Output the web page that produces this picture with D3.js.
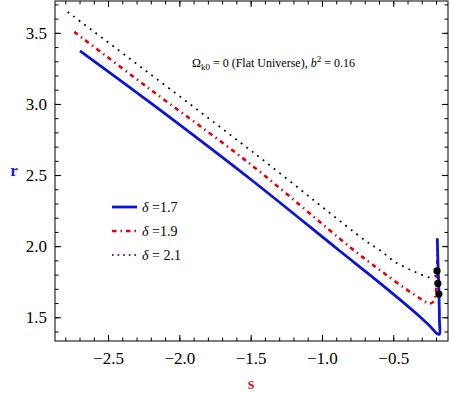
<!DOCTYPE html>
<html><head><meta charset="utf-8">
<script src="https://cdn.jsdelivr.net/npm/d3@7"></script>
<style>body{margin:0;background:#fff}svg{display:block}
text{font-family:"Liberation Serif","Times New Roman","DejaVu Serif",serif}</style>
</head><body><svg id="c" width="450" height="396"></svg>
<script>
// ---- data ----
const xTicks = [-2.5, -2.0, -1.5, -1.0, -0.5];
const yTicks = [1.5, 2.0, 2.5, 3.0, 3.5];
const legendLabels = ["δ =1.7", "δ =1.9", "δ = 2.1"];
const s17 = [-2.697, -2.206, -1.505, -0.881, -0.593, -0.313, -0.243, -0.196, -0.177, -0.176, -0.180, -0.187, -0.191];
const r17 = [3.374, 3.011, 2.474, 1.971, 1.740, 1.504, 1.438, 1.387, 1.380, 1.48, 1.69, 1.90, 2.055];
const s19 = [-2.737, -2.229, -1.505, -0.804, -0.593, -0.348, -0.243, -0.219, -0.204, -0.194, -0.190];
const r19 = [3.507, 3.121, 2.579, 1.994, 1.831, 1.656, 1.597, 1.609, 1.656, 1.761, 1.97];
const s21 = [-2.783, -1.493, -0.698, -0.593, -0.488, -0.35, -0.243, -0.205, -0.194, -0.189, -0.187];
const r21 = [3.647, 2.668, 2.041, 1.971, 1.89, 1.82, 1.78, 1.79, 1.83, 1.92, 1.97];
const dotS = [-0.193, -0.187, -0.180];
const dotR = [1.826, 1.738, 1.663];

const svg = d3.select("#c");
const L = 55, R = 448, T = 1, B = 341;
const x = d3.scaleLinear().domain([-2.872, -0.116]).range([L, R]);
const y = d3.scaleLinear().domain([1.333, 3.724]).range([B, T]);
const font = "'Liberation Serif','Times New Roman','DejaVu Serif',serif";

const minorX = d3.range(-2.8, -0.11, 0.1).map(v => +v.toFixed(2));
const minorY = d3.range(1.4, 3.75, 0.1).map(v => +v.toFixed(2));

// axes
const ax = svg.append("g");
function tickGroup(gen, tr) {
  const g = ax.append("g").attr("transform", tr).call(gen);
  g.attr("font-family", null).attr("font-size", null);
  g.select(".domain").remove();
  g.selectAll("text").style("font-family", font).style("font-size", "17px").attr("fill", "#000");
  g.selectAll("line").attr("stroke", "#000");
  return g;
}
const fmt = d => (d < 0 ? "\u2212" : "") + Math.abs(d).toFixed(1);
// bottom
tickGroup(d3.axisBottom(x).tickValues(xTicks).tickSize(-6).tickPadding(11).tickFormat(fmt), `translate(0,${B})`);
tickGroup(d3.axisBottom(x).tickValues(minorX).tickSize(-3.5).tickFormat(""), `translate(0,${B})`);
// top
tickGroup(d3.axisTop(x).tickValues(xTicks).tickSize(-6).tickFormat(""), `translate(0,${T})`);
tickGroup(d3.axisTop(x).tickValues(minorX).tickSize(-3.5).tickFormat(""), `translate(0,${T})`);
// left
tickGroup(d3.axisLeft(y).tickValues(yTicks).tickSize(-6).tickPadding(8).tickFormat(d => d.toFixed(1)), `translate(${L},0)`);
tickGroup(d3.axisLeft(y).tickValues(minorY).tickSize(-3.5).tickFormat(""), `translate(${L},0)`);
// right
tickGroup(d3.axisRight(y).tickValues(yTicks).tickSize(-6).tickFormat(""), `translate(${R},0)`);
tickGroup(d3.axisRight(y).tickValues(minorY).tickSize(-3.5).tickFormat(""), `translate(${R},0)`);

svg.append("rect").attr("x", L).attr("y", T).attr("width", R - L).attr("height", B - T)
  .attr("fill", "none").attr("stroke", "#000").attr("stroke-width", 1);

// curves
svg.append("clipPath").attr("id", "cp").append("rect")
  .attr("x", L).attr("y", T).attr("width", R - L).attr("height", B - T);
const line = d3.line().x(d => x(d[0])).y(d => y(d[1])).curve(d3.curveCatmullRom.alpha(0.5));
const plot = svg.append("g").attr("clip-path", "url(#cp)");
plot.append("path").datum(d3.zip(s21, r21)).attr("d", line).attr("fill", "none")
  .attr("stroke", "#000").attr("stroke-width", 1.8).attr("stroke-dasharray", "1.8,5.2");
plot.append("path").datum(d3.zip(s19, r19)).attr("d", line).attr("fill", "none")
  .attr("stroke", "#e8000b").attr("stroke-width", 2.6).attr("stroke-dasharray", "4.5,4,1.5,4");
plot.append("path").datum(d3.zip(s17, r17)).attr("d", line).attr("fill", "none")
  .attr("stroke", "#0a14d8").attr("stroke-width", 2.8);
plot.selectAll("circle").data(d3.zip(dotS, dotR)).join("circle")
  .attr("cx", d => x(d[0])).attr("cy", d => y(d[1])).attr("r", 3.6).attr("fill", "#000");

// legend
const legStyles = [
  {stroke: "#0a14d8", w: 2.8, dash: null},
  {stroke: "#e8000b", w: 2.6, dash: "4.5,4,1.5,4"},
  {stroke: "#6a1a6a", w: 1.8, dash: "1.6,4"}
];
const lg = svg.append("g");
legendLabels.forEach((t, i) => {
  const yy = 207 + i * 24;
  lg.append("line").attr("x1", 112).attr("x2", 137).attr("y1", yy).attr("y2", yy)
    .attr("stroke", legStyles[i].stroke).attr("stroke-width", legStyles[i].w)
    .attr("stroke-dasharray", legStyles[i].dash);
  const parts = t.split("δ");
  const tx = lg.append("text").attr("x", 142).attr("y", yy + 5).style("font-size", "14px");
  tx.append("tspan").attr("font-style", "italic").text("δ");
  tx.append("tspan").text(parts[1]);
});

// annotation
const an = svg.append("text").attr("x", 192).attr("y", 67).style("font-size", "12px");
an.append("tspan").text("Ω");
an.append("tspan").style("font-size", "9px").attr("dy", 3).text("k0");
an.append("tspan").attr("dy", -3).text(" = 0 (Flat Universe),  ");
an.append("tspan").attr("font-style", "italic").text("b");
an.append("tspan").style("font-size", "9px").attr("dy", -5).text("2");
an.append("tspan").attr("dy", 5).text(" = 0.16");

// axis titles
svg.append("text").attr("x", 14).attr("y", 176).attr("text-anchor", "middle")
  .attr("font-weight", "bold").style("font-size", "17px").attr("fill", "#1a1ae6").text("r");
svg.append("text").attr("x", 251).attr("y", 389).attr("text-anchor", "middle")
  .attr("font-weight", "bold").style("font-size", "17px").attr("fill", "#e01a1a").text("s");
</script></body></html>
